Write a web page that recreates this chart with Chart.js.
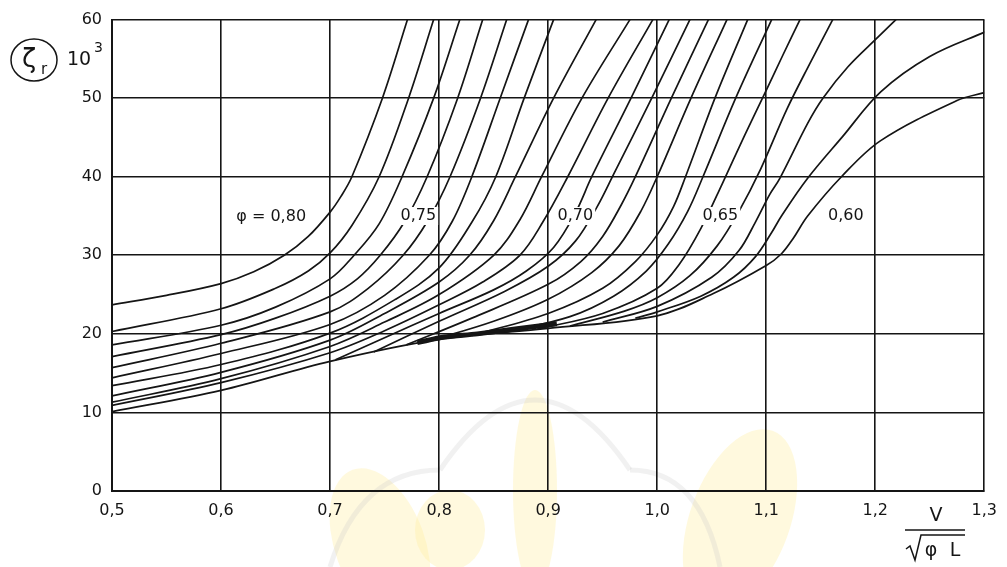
<!DOCTYPE html>
<html lang="de">
<head>
<meta charset="utf-8">
<title>Restwiderstandsbeiwert</title>
<script src="https://cdn.jsdelivr.net/npm/chart.js@4.4.1/dist/chart.umd.min.js"></script>
<style>
  html, body { margin: 0; padding: 0; background: #fff; }
  canvas { display: block; }
</style>
</head>
<body>
<canvas id="chart" width="1007" height="567"></canvas>
<script>
// axes: x = V / sqrt(phi L), y = zeta_r * 10^3
const xTickLabels = ['0,5', '0,6', '0,7', '0,8', '0,9', '1,0', '1,1', '1,2', '1,3'];
const yTickLabels = ['0', '10', '20', '30', '40', '50', '60'];

const phiLabels = ['0,80', '0,79', '0,78', '0,77', '0,76', '0,75', '0,74', '0,73', '0,72', '0,71',
  '0,70', '0,69', '0,68', '0,67', '0,66', '0,65', '0,64', '0,63', '0,62', '0,61', '0,60'];

// curves, [x, y]
const phi080 = [[0.5, 23.7], [0.55, 24.9], [0.6, 26.4], [0.63, 27.9], [0.658, 30], [0.68, 32.4], [0.7, 35.5], [0.71, 37.5], [0.72, 40], [0.748, 50], [0.771, 60]];
const phi079 = [[0.5, 20.3], [0.6, 23.2], [0.65, 25.8], [0.68, 28.0], [0.7, 30.3], [0.72, 33.8], [0.745, 40], [0.772, 50], [0.795, 60]];
const phi078 = [[0.5, 18.6], [0.6, 21.1], [0.65, 23.4], [0.7, 27.0], [0.722, 30], [0.745, 34], [0.766, 40], [0.795, 50], [0.819, 60]];
const phi077 = [[0.5, 17.1], [0.6, 19.9], [0.65, 22.0], [0.7, 24.8], [0.725, 27.0], [0.746, 30], [0.768, 34.2], [0.789, 40], [0.817, 50], [0.840, 60]];
const phi076 = [[0.5, 15.7], [0.6, 18.8], [0.7, 22.8], [0.735, 25.8], [0.767, 30], [0.79, 34.5], [0.810, 40], [0.838, 50], [0.862, 60]];
const phi075 = [[0.5, 14.4], [0.6, 17.5], [0.7, 21.2], [0.75, 24.9], [0.791, 30], [0.812, 34.3], [0.830, 40], [0.856, 50], [0.882, 60]];
const phi074 = [[0.5, 13.4], [0.6, 16.1], [0.7, 20.1], [0.76, 24.4], [0.8, 28.4], [0.83, 34.2], [0.852, 40], [0.878, 50], [0.905, 60]];
const phi073 = [[0.5, 12.1], [0.6, 15.1], [0.7, 19.2], [0.75, 22.6], [0.8, 26.6], [0.828, 30], [0.85, 34.4], [0.870, 40], [0.905, 50], [0.944, 60]];
const phi072 = [[0.5, 11.3], [0.6, 14.3], [0.7, 18.4], [0.75, 21.5], [0.8, 25.0], [0.85, 30], [0.874, 34.5], [0.894, 40], [0.931, 50], [0.975, 60]];
const phi071 = [[0.5, 10.9], [0.6, 13.8], [0.7, 17.6], [0.75, 20.4], [0.8, 23.7], [0.84, 26.6], [0.874, 30], [0.895, 34.2], [0.918, 40], [0.955, 50], [0.996, 60]];
const phi070 = [[0.705, 16.7], [0.75, 19.5], [0.8, 22.6], [0.85, 25.6], [0.88, 28.0], [0.905, 31.0], [0.925, 35.4], [0.94, 40], [0.976, 50], [1.011, 60]];
const phi069 = [[0.74, 17.7], [0.8, 21.6], [0.86, 25.4], [0.9, 28.6], [0.925, 31.8], [0.945, 36.2], [0.96, 40.3], [0.995, 50], [1.030, 60]];
const phi068 = [[0.77, 18.6], [0.83, 22.0], [0.9, 26.3], [0.93, 29.2], [0.95, 32.4], [0.967, 36.4], [0.98, 40], [1.013, 50], [1.047, 60]];
const phi067 = [[0.79, 19.05], [0.85, 21.6], [0.9, 24.4], [0.94, 27.8], [0.965, 31.2], [0.985, 35.6], [1.0, 40], [1.031, 50], [1.064, 60]];
const phi066 = [[0.83, 19.8], [0.9, 22.6], [0.95, 25.8], [0.98, 29.2], [1.0, 32.6], [1.015, 36.2], [1.026, 40], [1.053, 50], [1.083, 60]];
const phi065 = [[0.86, 20.2], [0.92, 22.2], [0.96, 24.8], [0.99, 28.0], [1.01, 31.4], [1.028, 35.6], [1.042, 40], [1.072, 50], [1.105, 60]];
const phi064 = [[0.89, 20.6], [0.95, 22.6], [1.0, 25.8], [1.02, 28.8], [1.04, 33.4], [1.06, 39.2], [1.08, 45.2], [1.1, 51.0], [1.115, 55.4], [1.131, 60]];
const phi063 = [[0.92, 21.0], [0.97, 22.9], [1.0, 24.6], [1.03, 27.4], [1.055, 31.2], [1.075, 35.6], [1.095, 41.0], [1.119, 48.6], [1.14, 54.4], [1.161, 60]];
const phi062 = [[0.95, 21.5], [1.0, 23.5], [1.05, 27.2], [1.075, 30.6], [1.09, 34.2], [1.103, 37.7], [1.1125, 39.8], [1.138, 46.8], [1.152, 50.0], [1.175, 54.0], [1.202, 57.7], [1.219, 60]];
const phi061 = [[0.98, 22.0], [1.0, 22.8], [1.04, 24.8], [1.07, 27.2], [1.09, 29.8], [1.105, 32.9], [1.114, 35], [1.138, 39.8], [1.17, 45.1], [1.205, 50.8], [1.25, 55.3], [1.302, 58.5]];
const phi060 = [[0.5, 10.1], [0.6, 12.8], [0.7, 16.5], [0.8, 19.3], [0.9, 20.7], [1.0, 22.3], [1.051, 25.1], [1.1, 28.7], [1.114, 30.2], [1.125, 32.2], [1.138, 35], [1.169, 40], [1.205, 44.6], [1.275, 49.7], [1.3, 50.7]];

// the heavy ink smear on the lower envelope in the scan
const smear = [[0.78, 18.9], [0.805, 19.6], [0.835, 20.0], [0.908, 21.3]];

const curves = [phi080, phi079, phi078, phi077, phi076, phi075, phi074, phi073, phi072, phi071,
  phi070, phi069, phi068, phi067, phi066, phi065, phi064, phi063, phi062, phi061, phi060];

const FONT = "'DejaVu Sans', 'Liberation Sans', sans-serif";
const INK = '#151515';

const datasets = curves.map((pts, i) => ({
  label: 'φ = ' + phiLabels[i],
  data: pts.map(p => ({ x: p[0], y: p[1] })),
  showLine: true,
  borderColor: INK,
  borderWidth: 1.7,
  pointRadius: 0,
  tension: 0.35
}));
datasets.push({
  label: 'smear',
  data: smear.map(p => ({ x: p[0], y: p[1] })),
  showLine: true,
  borderColor: INK,
  borderWidth: 5,
  pointRadius: 0,
  tension: 0.3
});

// text written inside the plot (value coordinates)
const curveNotes = [
  { text: 'φ = 0,80', x: 0.646, y: 34.9 },
  { text: '0,75', x: 0.781, y: 35.0 },
  { text: '0,70', x: 0.925, y: 35.0 },
  { text: '0,65', x: 1.058, y: 35.0 },
  { text: '0,60', x: 1.173, y: 35.0 }
];

const decor = {
  id: 'decor',
  beforeDraw(chart) {
    const ctx = chart.ctx;
    ctx.save();
    ctx.fillStyle = '#fff';
    ctx.fillRect(0, 0, chart.width, chart.height);
    // faint watermark behind the scan
    ctx.fillStyle = 'rgba(255, 238, 160, 0.35)';
    ctx.beginPath(); ctx.ellipse(380, 545, 45, 80, -0.35, 0, Math.PI * 2); ctx.fill();
    ctx.beginPath(); ctx.ellipse(740, 520, 50, 95, 0.35, 0, Math.PI * 2); ctx.fill();
    ctx.beginPath(); ctx.ellipse(535, 490, 22, 100, 0, 0, Math.PI * 2); ctx.fill();
    ctx.beginPath(); ctx.ellipse(450, 530, 35, 40, 0, 0, Math.PI * 2); ctx.fill();
    ctx.strokeStyle = 'rgba(200, 200, 200, 0.25)';
    ctx.lineWidth = 5;
    ctx.beginPath(); ctx.moveTo(440, 470); ctx.quadraticCurveTo(535, 330, 630, 470); ctx.stroke();
    ctx.beginPath(); ctx.moveTo(330, 567); ctx.quadraticCurveTo(360, 470, 440, 470); ctx.stroke();
    ctx.beginPath(); ctx.moveTo(630, 470); ctx.quadraticCurveTo(700, 470, 720, 567); ctx.stroke();
    ctx.restore();
  },
  afterDatasetsDraw(chart) {
    const { ctx, scales: { x, y } } = chart;
    ctx.save();
    ctx.font = '16px ' + FONT;
    ctx.textAlign = 'center';
    ctx.textBaseline = 'middle';
    curveNotes.forEach(n => {
      const px = x.getPixelForValue(n.x);
      const py = y.getPixelForValue(n.y);
      const w = ctx.measureText(n.text).width;
      ctx.fillStyle = '#fff';
      ctx.fillRect(px - w / 2 - 2, py - 9, w + 4, 18);
      ctx.fillStyle = INK;
      ctx.fillText(n.text, px, py);
    });
    ctx.restore();
  },
  afterDraw(chart) {
    const ctx = chart.ctx;
    ctx.save();
    ctx.fillStyle = INK;
    ctx.strokeStyle = INK;
    ctx.lineWidth = 1.5;
    // circled zeta_r and the 10^3 factor
    ctx.beginPath(); ctx.ellipse(34, 60, 23, 21, 0, 0, Math.PI * 2); ctx.stroke();
    ctx.textAlign = 'center';
    ctx.textBaseline = 'middle';
    ctx.font = '26px ' + FONT;
    ctx.fillText('ζ', 29, 60);
    ctx.font = '15px ' + FONT;
    ctx.fillText('r', 44, 70);
    ctx.textAlign = 'left';
    ctx.font = '19px ' + FONT;
    ctx.fillText('10', 67, 60);
    ctx.font = '14px ' + FONT;
    ctx.fillText('3', 94, 48);
    // x axis title V / sqrt(phi L)
    ctx.textAlign = 'center';
    ctx.font = '19px ' + FONT;
    ctx.fillText('V', 936, 516);
    ctx.beginPath(); ctx.moveTo(905, 530); ctx.lineTo(965, 530); ctx.stroke();
    ctx.beginPath();
    ctx.moveTo(906, 549); ctx.lineTo(910, 546); ctx.lineTo(915, 560); ctx.lineTo(921, 535); ctx.lineTo(965, 535);
    ctx.stroke();
    ctx.fillText('φ', 931, 551);
    ctx.fillText('L', 955, 551);
    ctx.restore();
  }
};

new Chart(document.getElementById('chart'), {
  type: 'scatter',
  data: { datasets },
  options: {
    responsive: false,
    animation: false,
    events: [],
    layout: { padding: { top: 15, right: 16, left: 0, bottom: 0 } },
    plugins: { legend: { display: false }, tooltip: { enabled: false } },
    scales: {
      x: {
        type: 'linear',
        min: 0.5,
        max: 1.3,
        afterFit(scale) { scale.height = 76; },
        ticks: {
          stepSize: 0.1,
          padding: 10,
          color: INK,
          font: { family: FONT, size: 16 },
          callback: (v, i) => xTickLabels[i]
        },
        grid: { color: INK, lineWidth: 1.6, drawTicks: false },
        border: { color: INK, width: 2 }
      },
      y: {
        min: 0,
        max: 60,
        afterFit(scale) { scale.width = 112; },
        ticks: {
          stepSize: 10,
          padding: 10,
          color: INK,
          font: { family: FONT, size: 16 },
          callback: (v, i) => yTickLabels[i]
        },
        grid: { color: INK, lineWidth: 1.6, drawTicks: false },
        border: { color: INK, width: 2 }
      }
    }
  },
  plugins: [decor]
});
</script>
</body>
</html>
